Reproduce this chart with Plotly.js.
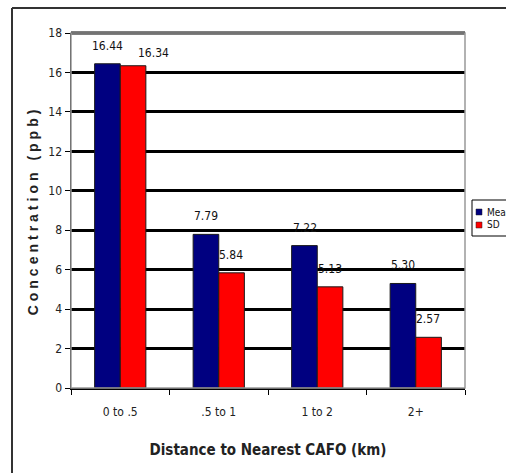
<!DOCTYPE html>
<html>
<head>
<meta charset="utf-8">
<script src="https://cdn.plot.ly/plotly-3.0.1.min.js"></script>
<style>html,body{margin:0;padding:0;background:#fff;overflow:hidden;}#chart{width:506px;height:473px;}</style>
</head>
<body>
<div id="chart"></div>
<script>
const categories = ["0 to .5", ".5 to 1", "1 to 2", "2+"];
const meanValues = [16.44, 7.79, 7.22, 5.30];
const sdValues = [16.34, 5.84, 5.13, 2.57];
const seriesNames = ["Mean", "SD"];
const seriesColors = ["#000080", "#ff0000"];
const yTicks = [0, 2, 4, 6, 8, 10, 12, 14, 16, 18];

const narrow = "'DejaVu Sans Condensed', 'Liberation Sans Narrow', 'Arial Narrow', sans-serif";

function barTrace(name, vals, color) {
  return {
    type: "bar",
    name: name,
    x: categories,
    y: vals,
    marker: {color: color, line: {color: "#1a1a1a", width: 1}},
    hoverinfo: "x+y"
  };
}

const data = [
  barTrace(seriesNames[0], meanValues, seriesColors[0]),
  barTrace(seriesNames[1], sdValues, seriesColors[1])
];

const W = 394, H = 355, L = 71, T = 33;
const px = x => (x - L) / W;
const py = y => (T + H - y) / H;

// data labels placed through the axes (value labels above each bar)
const labelAnn = [];
[meanValues, sdValues].forEach((vals, s) => {
  vals.forEach((v, i) => {
    let xs = s === 0 ? -12.5 : 12.5;
    let ys = 18;
    if (s === 1 && i === 0) { xs = 33; ys = 13; } // label nudged aside to avoid overlap, as in the original
    labelAnn.push({xref: "x", yref: "y", x: categories[i], y: v, text: v.toFixed(2),
      showarrow: false, xanchor: "center", yanchor: "middle", xshift: xs, yshift: ys,
      font: {family: narrow, size: 12, color: "#111"}});
  });
});

// manual legend (the reference legend is clipped by the right edge of the image)
const legendShapes = [
  {type: "rect", xref: "paper", yref: "paper", x0: px(472), x1: px(560), y0: py(236), y1: py(200),
   line: {color: "#000", width: 1}, fillcolor: "#fff"}
];
const legendAnn = [];
seriesNames.forEach((n, i) => {
  const cy = 212 + i * 13;
  legendShapes.push({type: "rect", xref: "paper", yref: "paper", x0: px(476), x1: px(482), y0: py(cy + 3), y1: py(cy - 3),
    line: {color: "#222", width: 0.5}, fillcolor: seriesColors[i]});
  legendAnn.push({xref: "paper", yref: "paper", x: px(485), y: py(cy), xanchor: "left", yanchor: "middle",
    text: n, showarrow: false, font: {family: narrow, size: 10, color: "#111"}});
});

const layout = {
  width: 506,
  height: 473,
  margin: {l: L, r: 506 - L - W, t: T, b: 473 - T - H},
  paper_bgcolor: "#ffffff",
  plot_bgcolor: "#ffffff",
  barmode: "group",
  bargap: 0.48,
  bargroupgap: 0,
  showlegend: false,
  xaxis: {
    type: "category",
    tickson: "boundaries",
    ticks: "outside",
    ticklen: 5,
    tickcolor: "#000",
    showline: true,
    linecolor: "#000",
    linewidth: 1.5,
    showgrid: false,
    ticklabelstandoff: 12,
    tickfont: {family: narrow, size: 12, color: "#222"},
    title: {text: "Distance to Nearest CAFO (km)", font: {family: narrow, size: 15, color: "#222", weight: "bold"}, standoff: 26}
  },
  yaxis: {
    range: [0, 18],
    tickvals: yTicks,
    ticks: "outside",
    ticklen: 5,
    tickcolor: "#000",
    showline: true,
    linecolor: "#000",
    linewidth: 1.5,
    showgrid: true,
    gridcolor: "#000",
    gridwidth: 3,
    zeroline: false,
    tickfont: {family: narrow, size: 12, color: "#222"},
    title: {text: "Concentration (ppb)", font: {family: "'Liberation Sans', Arial, sans-serif", size: 14, color: "#222", weight: "bold"}, standoff: 6}
  },
  annotations: labelAnn.concat(legendAnn),
  shapes: [
    {type: "line", xref: "paper", yref: "paper", x0: 0, x1: 1, y0: 1, y1: 1, line: {color: "#000", width: 3}},
    {type: "rect", xref: "paper", yref: "paper", x0: 0, x1: 1, y0: 0, y1: 1, line: {color: "#999", width: 1.5}, fillcolor: "rgba(0,0,0,0)", layer: "above"},
    {type: "line", xref: "paper", yref: "paper", x0: px(12), x1: px(560), y0: py(8), y1: py(8), line: {color: "#333", width: 2}},
    {type: "line", xref: "paper", yref: "paper", x0: px(12), x1: px(12), y0: py(8), y1: py(520), line: {color: "#333", width: 2}}
  ].concat(legendShapes)
};

Plotly.newPlot("chart", data, layout, {displayModeBar: false, staticPlot: true}).then(() => {
  const t = document.querySelector("#chart .ytitle");
  if (t) t.style.letterSpacing = "4px";
});
</script>
</body>
</html>
